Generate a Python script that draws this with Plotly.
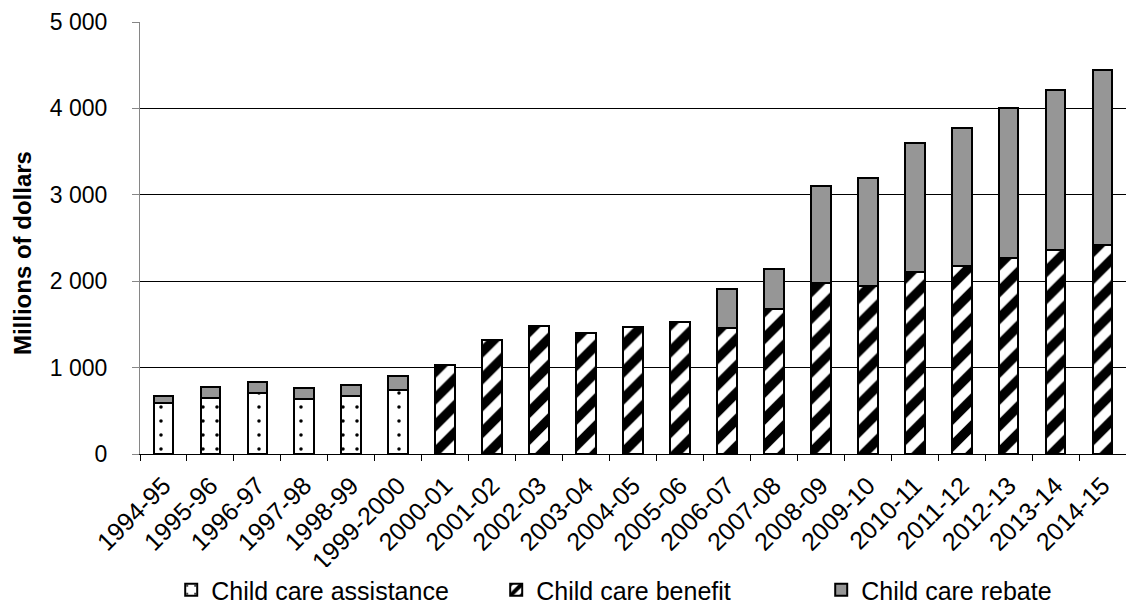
import plotly.graph_objects as go

years = ["1994-95", "1995-96", "1996-97", "1997-98", "1998-99", "1999-2000",
         "2000-01", "2001-02", "2002-03", "2003-04", "2004-05", "2005-06",
         "2006-07", "2007-08", "2008-09", "2009-10", "2010-11", "2011-12",
         "2012-13", "2013-14", "2014-15"]

assistance = [592, 650, 707, 634, 672, 737] + [None] * 15
benefit = [None] * 6 + [1031, 1318, 1480, 1396, 1465, 1523, 1461, 1684,
                        1985, 1946, 2104, 2177, 2269, 2366, 2424]
rebate = [84, 121, 126, 126, 126, 171] + [None] * 6 + [454, 454, 1121, 1253,
                                                        1499, 1600, 1731, 1850, 2026]

FONT = "Liberation Sans, Arial, sans-serif"
outline = dict(color="black", width=2)

fig = go.Figure()
fig.add_trace(go.Bar(
    x=years, y=assistance, name="Child care assistance",
    marker=dict(color="white", line=outline,
                pattern=dict(shape=".", fgcolor="black", bgcolor="white",
                             fgopacity=1, size=14, solidity=0.05,
                             fillmode="overlay")),
))
fig.add_trace(go.Bar(
    x=years, y=benefit, name="Child care benefit",
    marker=dict(color="white", line=outline,
                pattern=dict(shape="/", fgcolor="black", bgcolor="white",
                             fgopacity=1, size=19, solidity=0.5,
                             fillmode="overlay")),
))
fig.add_trace(go.Bar(
    x=years, y=rebate, name="Child care rebate",
    marker=dict(color="#969696", line=outline),
))

fig.update_layout(
    barmode="stack",
    bargap=0.58,
    width=1126, height=613,
    margin=dict(l=140, r=0, t=22, b=159),
    paper_bgcolor="white", plot_bgcolor="white",
    separators=". ",
    font=dict(family=FONT, size=23, color="black"),
    showlegend=True,
    legend=dict(orientation="h", xref="container", yref="container",
                x=0.585, xanchor="center", y=0.0, yanchor="bottom",
                entrywidth=280, entrywidthmode="pixels",
                font=dict(family=FONT, size=25, color="black"),
                traceorder="normal"),
    annotations=[dict(text="<b>Millions of dollars</b>", textangle=-90,
                      xref="paper", yref="paper", x=-0.1197, y=0.465,
                      xanchor="center", yanchor="middle", showarrow=False,
                      font=dict(family=FONT, size=24, color="black"))],
)
fig.update_xaxes(
    type="category", tickangle=-45, tickson="boundaries",
    ticks="outside", ticklen=6, tickcolor="black",
    showline=True, linecolor="black", linewidth=1,
    showgrid=False, automargin=False, ticklabelstandoff=6,
    tickfont=dict(family=FONT, size=25),
)
fig.update_yaxes(
    range=[0, 5000], dtick=1000, tickformat=",",
    ticks="outside", ticklen=7, tickcolor="#868686",
    showline=True, linecolor="#868686", linewidth=1,
    showgrid=True, gridcolor="black", gridwidth=1.2,
    zeroline=False, ticklabelstandoff=20, automargin=False,
    tickfont=dict(family=FONT, size=23),
)

fig.write_html("out.html")
